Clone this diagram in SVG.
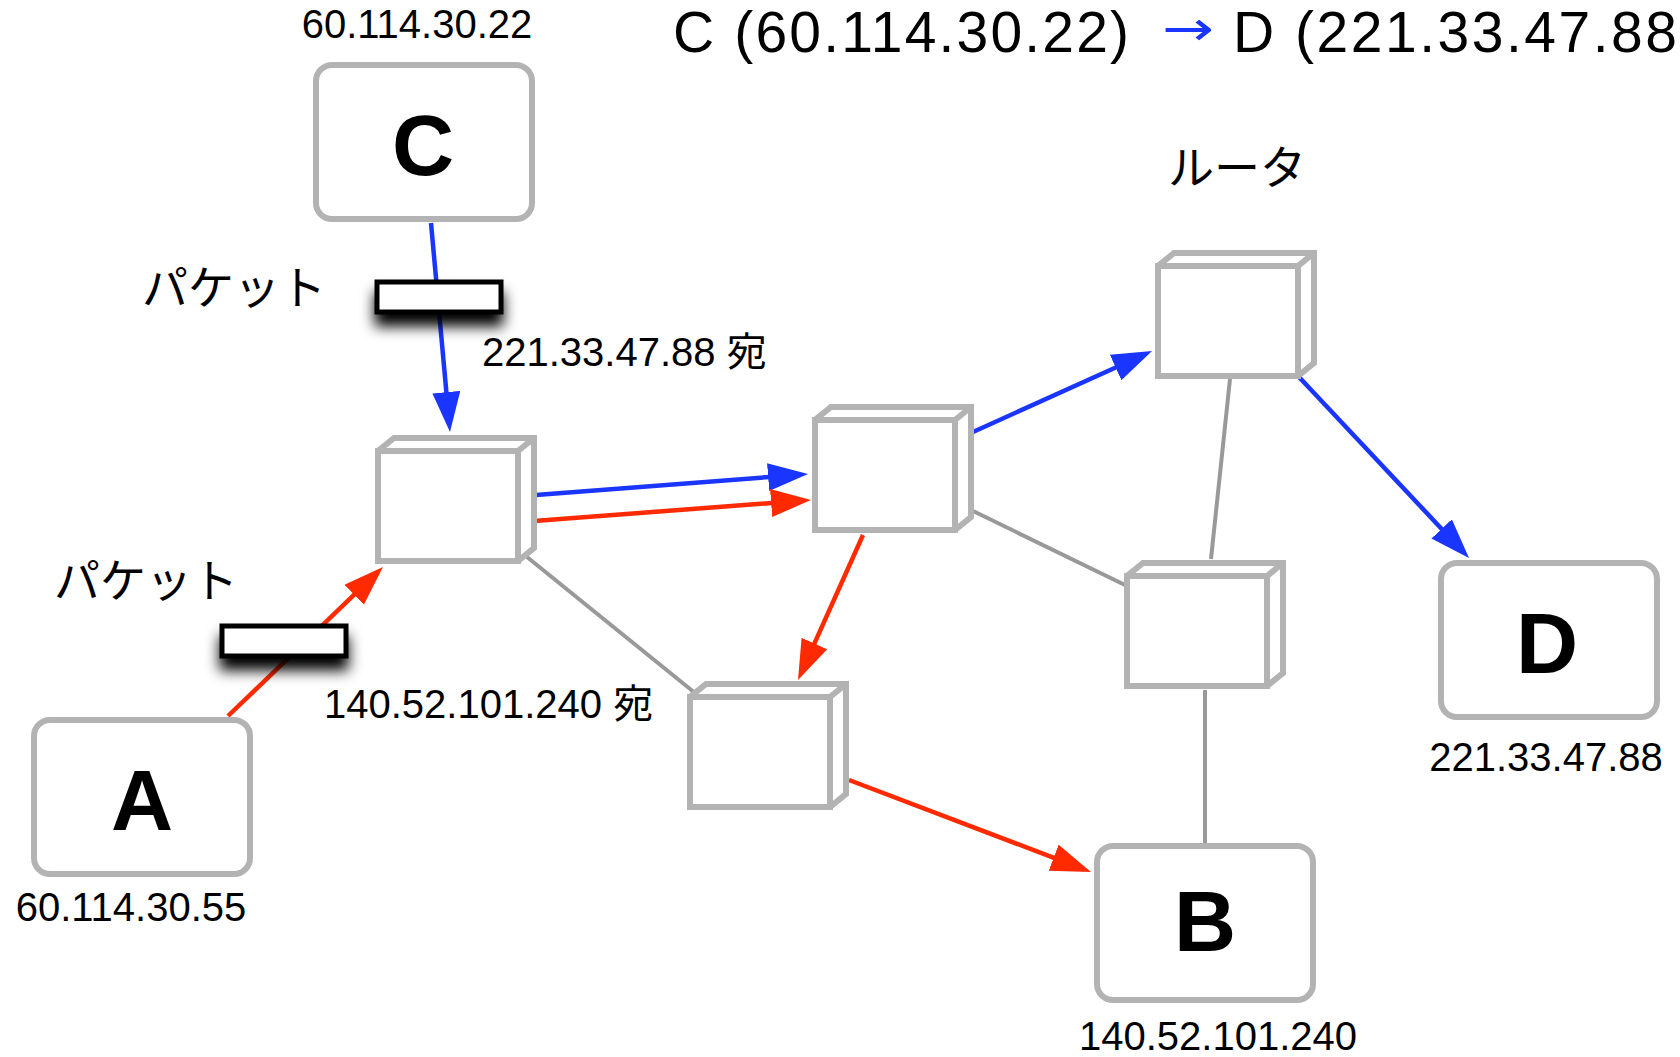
<svg xmlns="http://www.w3.org/2000/svg" xmlns:xlink="http://www.w3.org/1999/xlink" width="1680" height="1057" viewBox="0 0 1680 1057">
  <style>
    .host { fill: #ffffff; stroke: #b3b3b3; stroke-width: 6; }
    .cube { fill: #ffffff; stroke: #b3b3b3; stroke-width: 6; stroke-linejoin: miter; }
    .big { font-family: "Liberation Sans", Arial, sans-serif; font-weight: bold; font-size: 86px; text-anchor: middle; fill: #000; }
    .addr { font-family: "Liberation Sans", "Noto Sans CJK JP", sans-serif; font-size: 40px; fill: #000; }
    .jp { font-family: "Noto Sans CJK JP", sans-serif; font-size: 46px; fill: #000; }
    .title { font-family: "Liberation Sans", Arial, sans-serif; font-size: 57px; fill: #000; }
    .blue { stroke: #1a35ff; stroke-width: 4.5; fill: none; marker-end: url(#headBlue); }
    .red { stroke: #ff2a00; stroke-width: 4.5; fill: none; marker-end: url(#headRed); }
    .link { stroke: #999999; stroke-width: 4; fill: none; }
    .packet { fill: #ffffff; stroke: #000000; stroke-width: 5; filter: url(#shadow); }
  </style>
  <defs>
    <marker id="headBlue" markerUnits="userSpaceOnUse" markerWidth="42" markerHeight="30" refX="8" refY="14" orient="auto">
      <path d="M0,0 L40,14 L0,28 Z" fill="#1a35ff"/>
    </marker>
    <marker id="headRed" markerUnits="userSpaceOnUse" markerWidth="42" markerHeight="30" refX="8" refY="14" orient="auto">
      <path d="M0,0 L40,14 L0,28 Z" fill="#ff2a00"/>
    </marker>
    <filter id="shadow" x="-30%" y="-60%" width="160%" height="280%">
      <feDropShadow dx="0" dy="12" stdDeviation="7" flood-color="#000" flood-opacity="1"/>
    </filter>
    <!-- router drawn as a small box: front face at origin, depth toward upper right -->
    <g id="router">
      <path class="cube" d="M0,110 L0,0 L16,-13 L156,-13 L156,97 L140,110 Z"/>
      <rect class="cube" x="0" y="0" width="140" height="110"/>
      <path class="cube" d="M140,0 L156,-13"/>
    </g>
  </defs>

  <rect width="1680" height="1057" fill="#ffffff"/>

  <!-- heading -->
  <g id="heading">
    <text class="title" x="673" y="52" textLength="456" lengthAdjust="spacing">C (60.114.30.22)</text>
    <text x="1162" y="45" font-family="DejaVu Sans, sans-serif" font-size="48" fill="#1a35ff" textLength="52" lengthAdjust="spacingAndGlyphs">→</text>
    <text class="title" x="1233" y="52" textLength="444" lengthAdjust="spacing">D (221.33.47.88</text>
  </g>

  <!-- links and routes -->
  <g id="connectors">
    <line class="link" x1="527" y1="557" x2="695" y2="693"/>
    <line class="link" x1="971" y1="510" x2="1125" y2="585"/>
    <line class="link" x1="1230" y1="379" x2="1211" y2="559"/>
    <line class="link" x1="1205" y1="690" x2="1205" y2="846"/>

    <line class="blue" x1="431" y1="223" x2="447.1" y2="400.1"/>
    <line class="blue" x1="536" y1="495" x2="776.1" y2="476.5"/>
    <line class="blue" x1="973" y1="432" x2="1122.9" y2="364.2"/>
    <line class="blue" x1="1299" y1="377" x2="1447.1" y2="534.7"/>

    <line class="red" x1="228" y1="716" x2="359.9" y2="589.2"/>
    <line class="red" x1="534" y1="521" x2="779.1" y2="502.4"/>
    <line class="red" x1="863" y1="535" x2="811.1" y2="650.8"/>
    <line class="red" x1="849" y1="780" x2="1061.1" y2="860.6"/>
  </g>

  <!-- hosts -->
  <g id="host-c">
    <rect class="host" x="316" y="65" width="216" height="154" rx="16"/>
    <text class="big" x="423" y="175">C</text>
    <text class="addr" x="417" y="38" text-anchor="middle">60.114.30.22</text>
  </g>
  <g id="host-a">
    <rect class="host" x="34" y="720" width="216" height="154" rx="16"/>
    <text class="big" x="142" y="830">A</text>
    <text class="addr" x="131" y="921" text-anchor="middle">60.114.30.55</text>
  </g>
  <g id="host-b">
    <rect class="host" x="1097" y="846" width="216" height="154" rx="16"/>
    <text class="big" x="1205" y="951">B</text>
    <text class="addr" x="1218" y="1050" text-anchor="middle">140.52.101.240</text>
  </g>
  <g id="host-d">
    <rect class="host" x="1441" y="563" width="216" height="154" rx="16"/>
    <text class="big" x="1547" y="673">D</text>
    <text class="addr" x="1546" y="771" text-anchor="middle">221.33.47.88</text>
  </g>

  <!-- routers -->
  <g id="router-1"><use xlink:href="#router" href="#router" x="378" y="451"/></g>
  <g id="router-2"><use xlink:href="#router" href="#router" x="815" y="420"/></g>
  <g id="router-3">
    <use xlink:href="#router" href="#router" x="1158" y="266"/>
    <text class="jp" x="1237" y="184" text-anchor="middle">ルータ</text>
  </g>
  <g id="router-4"><use xlink:href="#router" href="#router" x="1127" y="576"/></g>
  <g id="router-5"><use xlink:href="#router" href="#router" x="690" y="697"/></g>

  <!-- packets in transit -->
  <g id="packet-c">
    <rect class="packet" x="377" y="282" width="124" height="30"/>
    <text class="jp" x="142" y="304">パケット</text>
    <text class="addr" x="482" y="366">221.33.47.88 宛</text>
  </g>
  <g id="packet-a">
    <rect class="packet" x="222" y="626" width="124" height="30"/>
    <text class="jp" x="54" y="597">パケット</text>
    <text class="addr" x="324" y="718">140.52.101.240 宛</text>
  </g>
</svg>
